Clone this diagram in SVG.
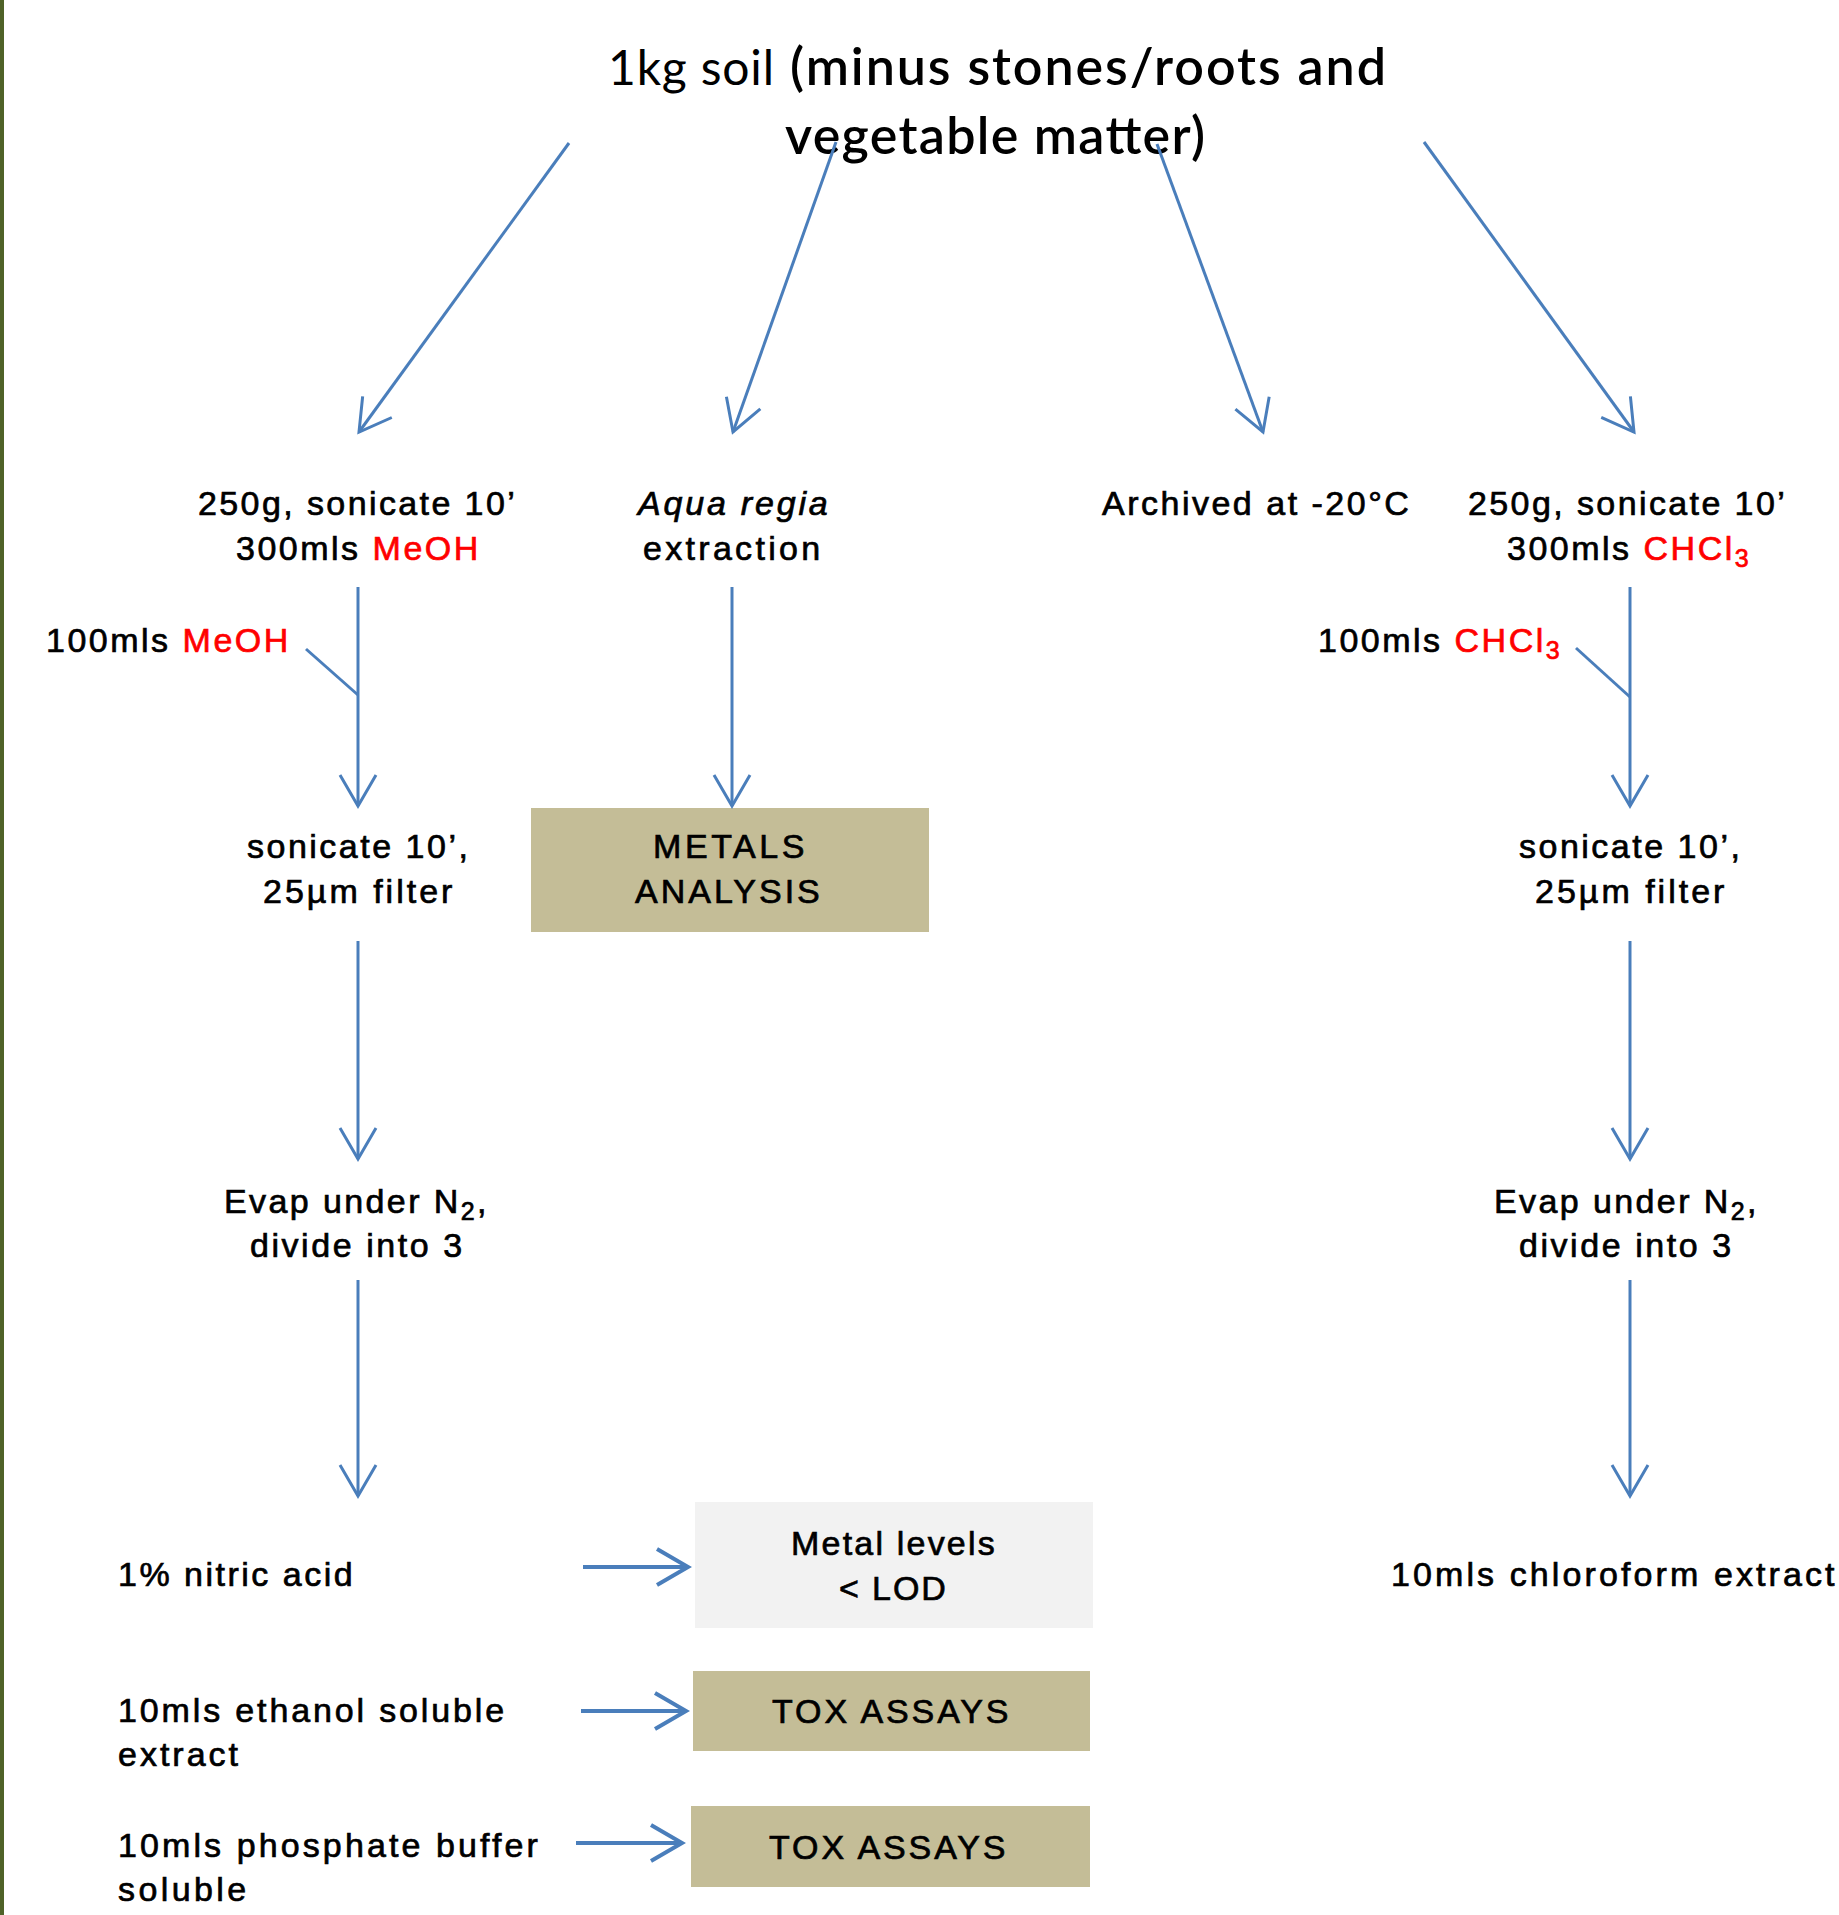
<svg xmlns="http://www.w3.org/2000/svg" width="1839" height="1915" viewBox="0 0 1839 1915">
<style>
  .t { font-family: "Liberation Sans", Arial, sans-serif; font-size: 34px; fill: #000; stroke: #000; stroke-width: 0.7px; }
  .ttl { font-family: Lato, "Open Sans", sans-serif; fill: #000; }
  .red { fill: #FF0000; stroke: #FF0000; }
  .it { font-style: italic; }
  .sub { font-size: 25px; }
  .tan { fill: #C4BD97; }
  .grey { fill: #F2F2F2; }
  .ln { fill: none; stroke: #4A7EBB; stroke-width: 3; }
  .lnb { fill: none; stroke: #4A7EBB; stroke-width: 4; }
</style>
<defs>
  <marker id="ah" viewBox="-40 -22 46 44" refX="0" refY="0" markerWidth="46" markerHeight="44" markerUnits="userSpaceOnUse" orient="auto">
    <path d="M-31,-18 L0,0 L-31,18" fill="none" stroke="#4A7EBB" stroke-width="3"/>
  </marker>
  <marker id="ahb" viewBox="-40 -22 46 44" refX="0" refY="0" markerWidth="46" markerHeight="44" markerUnits="userSpaceOnUse" orient="auto">
    <path d="M-31,-18 L0,0 L-31,18" fill="none" stroke="#4A7EBB" stroke-width="4"/>
  </marker>
</defs>
<rect x="0" y="0" width="1839" height="1915" fill="#FFFFFF"/>
<rect x="0" y="0" width="4" height="1915" fill="#4F6228"/>

<g id="n-soil">
  <text class="ttl" x="608" y="85" font-size="48" textLength="166" lengthAdjust="spacing">1kg soil</text>
  <text class="ttl" x="790" y="85" font-size="52" font-weight="600" textLength="596" lengthAdjust="spacing">(minus stones/roots and</text>
  <text class="ttl" x="785" y="154" font-size="52" font-weight="600" textLength="420" lengthAdjust="spacing">vegetable matter)</text>
</g>

<g id="n-meoh">
  <text class="t" x="198" y="515" letter-spacing="2.4">250g, sonicate 10’</text>
  <text class="t" x="236" y="560" letter-spacing="2.5">300mls <tspan class="red">MeOH</tspan></text>
</g>

<g id="n-aqua">
  <text class="t it" x="638" y="515" letter-spacing="2.8">Aqua regia</text>
  <text class="t" x="643" y="560" letter-spacing="3.3">extraction</text>
</g>

<g id="n-archive">
  <text class="t" x="1102" y="515" letter-spacing="2.5">Archived at -20°C</text>
</g>

<g id="n-chcl">
  <text class="t" x="1468" y="515" letter-spacing="2.4">250g, sonicate 10’</text>
  <text class="t" x="1507" y="560" letter-spacing="2.5">300mls <tspan class="red">CHCl<tspan class="sub" dy="7">3</tspan></tspan></text>
</g>

<g id="n-meoh-add">
  <text class="t" x="46" y="652" letter-spacing="2.5">100mls <tspan class="red">MeOH</tspan></text>
</g>

<g id="n-chcl-add">
  <text class="t" x="1318" y="652" letter-spacing="2.5">100mls <tspan class="red">CHCl<tspan class="sub" dy="7">3</tspan></tspan></text>
</g>

<g id="n-sonicate-l">
  <text class="t" x="247" y="858" letter-spacing="2.5">sonicate 10’,</text>
  <text class="t" x="263" y="903" letter-spacing="3">25µm filter</text>
</g>

<g id="n-metals">
  <rect class="tan" x="531" y="808" width="398" height="124"/>
  <text class="t" x="653" y="858" letter-spacing="3.6">METALS</text>
  <text class="t" x="635" y="903" letter-spacing="3">ANALYSIS</text>
</g>

<g id="n-sonicate-r">
  <text class="t" x="1519" y="858" letter-spacing="2.5">sonicate 10’,</text>
  <text class="t" x="1535" y="903" letter-spacing="3">25µm filter</text>
</g>

<g id="n-evap-l">
  <text class="t" x="224" y="1213" letter-spacing="2.4">Evap under N<tspan class="sub" dy="7">2</tspan><tspan dy="-7">,</tspan></text>
  <text class="t" x="250" y="1257" letter-spacing="2.55">divide into 3</text>
</g>

<g id="n-evap-r">
  <text class="t" x="1494" y="1213" letter-spacing="2.4">Evap under N<tspan class="sub" dy="7">2</tspan><tspan dy="-7">,</tspan></text>
  <text class="t" x="1519" y="1257" letter-spacing="2.55">divide into 3</text>
</g>

<g id="n-nitric">
  <text class="t" x="118" y="1586" letter-spacing="2.5">1% nitric acid</text>
</g>

<g id="n-lod">
  <rect class="grey" x="695" y="1502" width="398" height="126"/>
  <text class="t" x="791" y="1555" letter-spacing="2.2">Metal levels</text>
  <text class="t" x="839" y="1600" letter-spacing="1.9">&lt; LOD</text>
</g>

<g id="n-ethanol">
  <text class="t" x="118" y="1722" letter-spacing="2.86">10mls ethanol soluble</text>
  <text class="t" x="118" y="1766" letter-spacing="3">extract</text>
</g>

<g id="n-tox1">
  <rect class="tan" x="693" y="1671" width="397" height="80"/>
  <text class="t" x="772" y="1723" letter-spacing="2.9">TOX ASSAYS</text>
</g>

<g id="n-phosphate">
  <text class="t" x="118" y="1857" letter-spacing="3.1">10mls phosphate buffer</text>
  <text class="t" x="118" y="1901" letter-spacing="3.4">soluble</text>
</g>

<g id="n-tox2">
  <rect class="tan" x="691" y="1806" width="399" height="81"/>
  <text class="t" x="769" y="1859" letter-spacing="2.9">TOX ASSAYS</text>
</g>

<g id="n-chloroform">
  <text class="t" x="1391" y="1586" letter-spacing="3.1">10mls chloroform extract</text>
</g>

<g id="connectors">
  <line class="ln" x1="569" y1="143" x2="359" y2="432" marker-end="url(#ah)"/>
  <line class="ln" x1="836" y1="142" x2="733" y2="432" marker-end="url(#ah)"/>
  <line class="ln" x1="1157" y1="144" x2="1263" y2="432" marker-end="url(#ah)"/>
  <line class="ln" x1="1424" y1="142" x2="1634" y2="432" marker-end="url(#ah)"/>

  <line class="ln" x1="358" y1="587" x2="358" y2="806" marker-end="url(#ah)"/>
  <line class="ln" x1="306" y1="649" x2="358" y2="695"/>
  <line class="ln" x1="732" y1="587" x2="732" y2="806" marker-end="url(#ah)"/>
  <line class="ln" x1="1630" y1="587" x2="1630" y2="806" marker-end="url(#ah)"/>
  <line class="ln" x1="1576" y1="648" x2="1630" y2="697"/>

  <line class="ln" x1="358" y1="941" x2="358" y2="1159" marker-end="url(#ah)"/>
  <line class="ln" x1="1630" y1="941" x2="1630" y2="1159" marker-end="url(#ah)"/>
  <line class="ln" x1="358" y1="1280" x2="358" y2="1496" marker-end="url(#ah)"/>
  <line class="ln" x1="1630" y1="1280" x2="1630" y2="1496" marker-end="url(#ah)"/>

  <line class="lnb" x1="583" y1="1567" x2="688" y2="1567" marker-end="url(#ahb)"/>
  <line class="lnb" x1="581" y1="1711" x2="686" y2="1711" marker-end="url(#ahb)"/>
  <line class="lnb" x1="576" y1="1843" x2="682" y2="1843" marker-end="url(#ahb)"/>
</g>
</svg>
